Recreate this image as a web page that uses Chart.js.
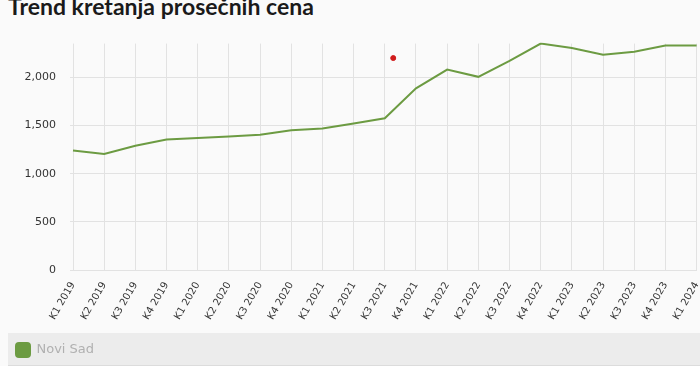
<!DOCTYPE html>
<html>
<head>
<meta charset="utf-8">
<script src="https://cdn.jsdelivr.net/npm/chart.js@4/dist/chart.umd.min.js"></script>
<style>
	body { margin: 0; background: #fafafa; overflow: hidden; }
	h2 {
		position: absolute; left: 8px; top: -8px; margin: 0;
		font: bold 23px "Lato", sans-serif; color: #1a1a1a;
	}
	#wrap { position: absolute; left: 0; top: 23px; width: 717px; height: 343px; }
</style>
</head>
<body>
<h2>Trend kretanja prosečnih cena</h2>
<div id="wrap"><canvas id="chart"></canvas></div>
<script>
const labels = ["K1 2019", "K2 2019", "K3 2019", "K4 2019", "K1 2020", "K2 2020", "K3 2020", "K4 2020",
	"K1 2021", "K2 2021", "K3 2021", "K4 2021", "K1 2022", "K2 2022", "K3 2022", "K4 2022",
	"K1 2023", "K2 2023", "K3 2023", "K4 2023", "K1 2024"];
const noviSad = [1240, 1205, 1290, 1355, 1370, 1385, 1405, 1450, 1470, 1520, 1575, 1885,
	2080, 2005, 2170, 2350, 2305, 2235, 2265, 2330, 2330];
// stray red marker seen in the picture
const markerPoint = [{ x: 10.27, y: 2200 }];
const yTicks = [0, 500, 1000, 1500, 2000];

const tickFont = { family: "DejaVu Sans", size: 11 };

// grey band behind the legend, legend nudged inside it
const legendBg = {
	id: "legendBg",
	afterLayout(chart) {
		const l = chart.legend;
		l.left += 6;
		l.right += 6;
		l.top += 1;
	},
	beforeDraw(chart) {
		const l = chart.legend;
		const ctx = chart.ctx;
		ctx.save();
		ctx.fillStyle = "#ececec";
		ctx.fillRect(8, l.top, chart.width - 8, chart.height - l.top);
		ctx.fillStyle = "#dcdcdc";
		ctx.fillRect(8, chart.height - 1, chart.width - 8, 1);
		ctx.restore();
	}
};

const context = document.getElementById("chart").getContext("2d");
const chart = new Chart(context, {
	type: "line",
	data: {
		labels,
		datasets: [{
			label: "Novi Sad",
			data: noviSad,
			borderColor: "#6c9b42",
			backgroundColor: "#6c9b42",
			borderWidth: 2,
			pointRadius: 0,
			tension: 0
		}, {
			label: "marker",
			type: "scatter",
			xAxisID: "x2",
			data: markerPoint,
			pointRadius: 2.5,
			backgroundColor: "#d01c1c",
			borderColor: "#d01c1c"
		}]
	},
	options: {
		responsive: true,
		maintainAspectRatio: false,
		animation: false,
		layout: { padding: { left: 0, right: 2, top: 0 } },
		scales: {
			x: {
				grid: { color: "#e2e2e2", tickLength: 0 },
				border: { color: "#e2e2e2" },
				ticks: { color: "#333", font: { family: "DejaVu Sans", size: 10 }, minRotation: 60, maxRotation: 60, autoSkip: false, padding: 10 }
			},
			x2: {
				type: "linear", display: false, min: 0, max: labels.length - 1
			},
			y: {
				beginAtZero: true,
				bounds: "data",
				afterBuildTicks: axis => { axis.ticks = yTicks.map(v => ({ value: v })); },
				afterFit: axis => { axis.width = 73; },
				grid: { color: "#e2e2e2", tickLength: 3 },
				border: { display: false },
				ticks: { color: "#333", font: tickFont, padding: 14 }
			}
		},
		plugins: {
			legend: {
				position: "bottom",
				align: "start",
				labels: {
					filter: item => item.datasetIndex === 0,
					boxWidth: 14, boxHeight: 14, useBorderRadius: true, borderRadius: 3,
					color: "#b0b0b0", font: { family: "DejaVu Sans", size: 13 }, padding: 10
				}
			},
			tooltip: { enabled: false }
		}
	},
	plugins: [legendBg]
});
</script>
</body>
</html>
